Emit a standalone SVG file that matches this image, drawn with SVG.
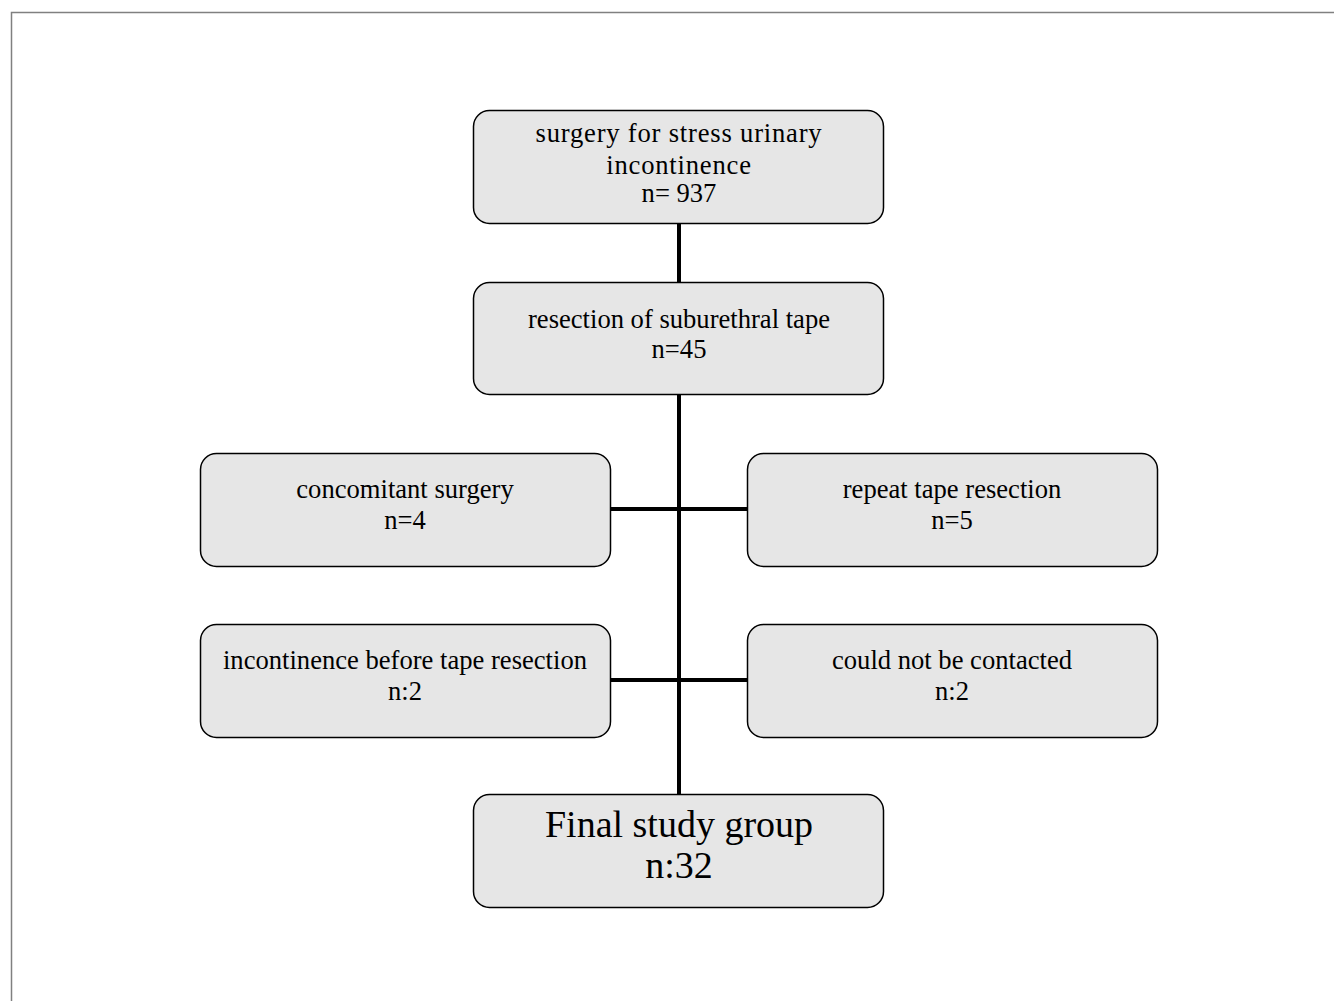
<svg xmlns="http://www.w3.org/2000/svg" width="1334" height="1001" viewBox="0 0 1334 1001">
<style>
.box{fill:#e6e6e6;stroke:#000;stroke-width:1.5}
.t{font-family:"Liberation Serif","Times New Roman",serif;font-size:26.6px;fill:#000;text-anchor:middle}
.w{letter-spacing:0.8px}
.big{font-size:38px}
.c{stroke:#000;stroke-width:4;fill:none}
</style>
<rect width="1334" height="1001" fill="#fff"/>
<path d="M11.5 1001 V12.5 H1334" fill="none" stroke="#808080" stroke-width="1.5"/>
<g id="connectors">
<line class="c" x1="679" y1="223" x2="679" y2="282"/>
<line class="c" x1="679" y1="394" x2="679" y2="794"/>
<line class="c" x1="610" y1="509" x2="747" y2="509"/>
<line class="c" x1="610" y1="680" x2="747" y2="680"/>
</g>
<g id="n1"><rect class="box" x="473.5" y="110.5" width="410" height="113" rx="16"/>
<text class="t w" x="679" y="142">surgery for stress urinary</text>
<text class="t w" x="679" y="174">incontinence</text>
<text class="t" x="679" y="202">n= 937</text></g>
<g id="n2"><rect class="box" x="473.5" y="282.5" width="410" height="112" rx="16"/>
<text class="t" x="679" y="328">resection of suburethral tape</text>
<text class="t" x="679" y="358">n=45</text></g>
<g id="n3"><rect class="box" x="200.5" y="453.5" width="410" height="113" rx="16"/>
<text class="t" x="405" y="498">concomitant surgery</text>
<text class="t" x="405" y="529">n=4</text></g>
<g id="n4"><rect class="box" x="747.5" y="453.5" width="410" height="113" rx="16"/>
<text class="t" x="952" y="498">repeat tape resection</text>
<text class="t" x="952" y="529">n=5</text></g>
<g id="n5"><rect class="box" x="200.5" y="624.5" width="410" height="113" rx="16"/>
<text class="t" x="405" y="669">incontinence before tape resection</text>
<text class="t" x="405" y="700">n:2</text></g>
<g id="n6"><rect class="box" x="747.5" y="624.5" width="410" height="113" rx="16"/>
<text class="t" x="952" y="669">could not be contacted</text>
<text class="t" x="952" y="700">n:2</text></g>
<g id="n7"><rect class="box" x="473.5" y="794.5" width="410" height="113" rx="16"/>
<text class="t big" x="679" y="837">Final study group</text>
<text class="t big" x="679" y="878">n:32</text></g>
</svg>
